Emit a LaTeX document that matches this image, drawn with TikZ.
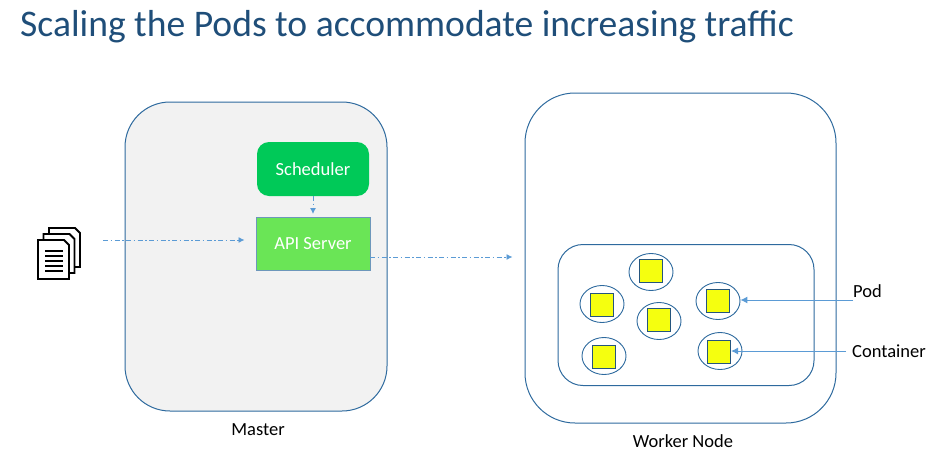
\documentclass[tikz,border=0pt]{standalone}
\usepackage{fontspec}
\setmainfont{Carlito}
\usetikzlibrary{%
    arrows.meta,
    calc,
    positioning,
    shapes.geometric
}

\definecolor{titleblue}{HTML}{1F4E79}
\definecolor{edgeblue}{HTML}{2E6A9E}
\definecolor{linkblue}{HTML}{5B9BD5}
\definecolor{schedgreen}{HTML}{00C958}
\definecolor{apigreen}{HTML}{6AE556}
\definecolor{boxyellow}{HTML}{F5FF0F}

\tikzset{%
    panel/.style={draw=edgeblue, line width=1pt, rounded corners=#1},
    podnode/.style={draw=edgeblue, line width=.9pt, ellipse, inner sep=0pt,
                    minimum width=44pt, minimum height=37pt},
    cbox/.style={draw=edgeblue!80!black, line width=1pt, fill=boxyellow,
                 inner sep=0pt, minimum size=23pt},
    caption/.style={font=\fontsize{18.5}{20}\selectfont, text=black, inner sep=0pt},
    flow/.style={draw=linkblue, line width=.9pt,
                 dash pattern=on 5pt off 2.5pt on 1.5pt off 2.5pt,
                 -{Latex[length=6pt,width=6pt]}},
    callout/.style={draw=linkblue, line width=1pt,
                    -{Latex[length=7pt,width=7pt]}},
    sheet/.style={draw=black, line width=1.8pt, fill=white, line join=miter}
}

\begin{document}
\begin{tikzpicture}[x=1pt, y=-1pt]
    \useasboundingbox (0,0) rectangle (934,466);

    \node[anchor=west, inner sep=0pt, text=titleblue,
          font=\fontsize{37.6}{40}\selectfont] (title) at (20,27)
          {Scaling the Pods to accommodate increasing traffic};

    % master and worker
    \node[panel=45pt, fill=black!5, minimum width=262pt, minimum height=309pt]
          (master) at (256,256.5) {};
    \node[panel=50pt, minimum width=311pt, minimum height=330pt]
          (worker) at (680.5,258) {};
    \node[panel=25pt, minimum width=256pt, minimum height=141pt]
          (nodebox) at (686,315) {};

    \node[caption] (masterlabel) at (258,430) {Master};
    \node[caption] (workerlabel) at (683,441) {Worker Node};

    \node[fill=schedgreen, rounded corners=12pt, minimum width=112pt,
          minimum height=54pt, text=white, inner sep=0pt,
          font=\fontsize{18.5}{20}\selectfont] (scheduler) at (313,169) {Scheduler};
    \node[draw=edgeblue!70, line width=1pt, fill=apigreen, minimum width=114pt,
          minimum height=53pt, text=white, inner sep=0pt,
          font=\fontsize{18.5}{20}\selectfont] (api) at (313,243.5) {API Server};

    % pods
    \foreach \Name/\Px/\Py/\Cx/\Cy in {%
        1/651/272/651/271,
        2/602/304/602/305,
        3/659/321/659/320,
        4/718/301/718/300.5,
        5/720/351/719/352,
        6/604/356/604/357%
        } {
        \node[podnode] (pod\Name) at (\Px,\Py) {};
        \node[cbox] (box\Name) at (\Cx,\Cy) {};
    }

    \node[caption, anchor=west] (podlabel) at (853,291) {Pod};
    \node[caption, anchor=west] (boxlabel) at (852,351) {Container};

    % document stack
    \foreach \Dx/\Dy in {11/-12,5.5/-6,0/0}
        \draw[sheet] ({38+\Dx},{240+\Dy}) -- ({64+\Dx},{240+\Dy})
            -- ({69+\Dx},{245+\Dy}) -- ({69+\Dx},{279+\Dy})
            -- ({38+\Dx},{279+\Dy}) -- cycle;
    \foreach \Ly in {251,256,261,266,271}
        \draw[black, line width=1.6pt] (45,\Ly) -- (63,\Ly);

    \coordinate (docsout) at (103,240);
    \coordinate (apiout) at (370,257);
    \coordinate (podstart) at (853,300);
    \coordinate (boxstart) at (846,351);

    \draw[flow, shorten >=11pt] (docsout) -- (docsout -| api.west);
    \draw[flow, shorten >=2.5pt] (scheduler.south) -- (api.north);
    \draw[flow, shorten >=12pt] (apiout) -- (apiout -| worker.west);
    \draw[callout] (podstart) -- (podstart -| pod4.east);
    \draw[callout] (boxstart) -- (boxstart -| box5.east);
\end{tikzpicture}
\end{document}
